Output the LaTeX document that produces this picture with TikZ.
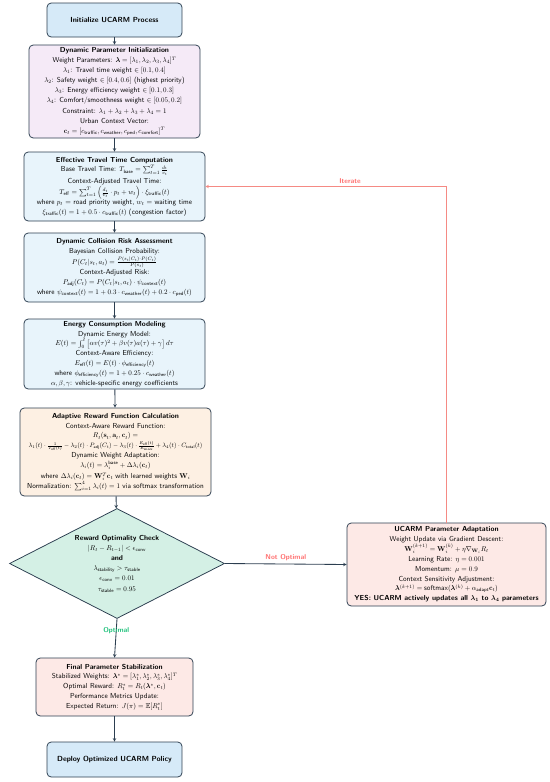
\documentclass[tikz,border=0pt]{standalone}
\usepackage{tikz}
\usepackage{amsmath}
\usepackage{amssymb}
\usepackage{bm}
\usepackage{xcolor}
\usetikzlibrary{shapes.geometric}

\definecolor{edge}{HTML}{2C3E50}
\definecolor{startfill}{HTML}{D6EAF8}
\definecolor{calcfill}{HTML}{E8F4FB}
\definecolor{initfill}{HTML}{F5EAF7}
\definecolor{rewardfill}{HTML}{FDF0E3}
\definecolor{checkfill}{HTML}{D4F0E5}
\definecolor{adaptfill}{HTML}{FDE9E6}
\definecolor{iterred}{HTML}{FF6B6B}
\definecolor{iterline}{HTML}{F58A84}
\definecolor{okgreen}{HTML}{1DC07A}

\begin{document}
\begin{tikzpicture}[>=stealth,x=0.05cm,y=-0.05cm,
  box/.style={draw=edge,line width=1.1pt,rounded corners=6pt,align=center,inner sep=2pt,
    font=\sffamily\fontsize{10.3}{14}\selectfont},
  term/.style={box,fill=startfill,font=\sffamily\bfseries\fontsize{10.5}{12}\selectfont},
  flow/.style={->,draw=edge,line width=1.2pt},
  tag/.style={font=\sffamily\bfseries\fontsize{10}{11}\selectfont}]

\path[use as bounding box] (0,0) rectangle (550,782);

\node(start) at (114.5,20)[term,minimum width=6.75cm,minimum height=1.7cm] {Initialize UCARM Process};

\node(init) at (114.5,91.5)[box,fill=initfill,minimum width=8.55cm,minimum height=4.65cm] {%
  \textbf{Dynamic Parameter Initialization}\\
  Weight Parameters: $\bm{\lambda}=[\lambda_1,\lambda_2,\lambda_3,\lambda_4]^T$\\
  $\lambda_1$: Travel time weight $\in[0.1,0.4]$\\
  $\lambda_2$: Safety weight $\in[0.4,0.6]$ (highest priority)\\
  $\lambda_3$: Energy efficiency weight $\in[0.1,0.3]$\\
  $\lambda_4$: Comfort/smoothness weight $\in[0.05,0.2]$\\[2pt]
  Constraint: $\lambda_1+\lambda_2+\lambda_3+\lambda_4=1$\\
  Urban Context Vector:\\
  $\mathbf{c}_t=[c_{\mathsf{traffic}},c_{\mathsf{weather}},c_{\mathsf{ped}},c_{\mathsf{comfort}}]^T$};

\node(travel) at (114.5,186.5)[box,fill=calcfill,minimum width=9.05cm,minimum height=3.45cm] {%
  \textbf{Effective Travel Time Computation}\\
  Base Travel Time: $T_{\mathsf{base}}=\sum_{t=1}^{T}\frac{d_t}{v_t}$\\[2pt]
  Context-Adjusted Travel Time:\\[2pt]
  $T_{\mathsf{eff}}=\sum_{t=1}^{T}\left(\frac{d_t}{v_t}\cdot p_t+w_t\right)\cdot\xi_{\mathsf{traffic}}(t)$\\
  where $p_t$ = road priority weight, $w_t$ = waiting time\\
  $\xi_{\mathsf{traffic}}(t)=1+0.5\cdot c_{\mathsf{traffic}}(t)$ (congestion factor)};

\node(risk) at (114.5,267.5)[box,fill=calcfill,minimum width=9.05cm,minimum height=3.45cm] {%
  \textbf{Dynamic Collision Risk Assessment}\\
  Bayesian Collision Probability:\\[1pt]
  $P(C_t|s_t,a_t)=\frac{P(s_t|C_t)\cdot P(C_t)}{P(s_t)}$\\[1pt]
  Context-Adjusted Risk:\\
  $P_{\mathsf{adj}}(C_t)=P(C_t|s_t,a_t)\cdot\psi_{\mathsf{context}}(t)$\\
  where $\psi_{\mathsf{context}}(t)=1+0.3\cdot c_{\mathsf{weather}}(t)+0.2\cdot c_{\mathsf{ped}}(t)$};

\node(energy) at (114.5,354)[box,fill=calcfill,minimum width=9.05cm,minimum height=3.5cm] {%
  \textbf{Energy Consumption Modeling}\\
  Dynamic Energy Model:\\
  $E(t)=\int_0^t\left[\alpha v(\tau)^2+\beta v(\tau)a(\tau)+\gamma\right]d\tau$\\
  Context-Aware Efficiency:\\
  $E_{\mathsf{eff}}(t)=E(t)\cdot\phi_{\mathsf{efficiency}}(t)$\\
  where $\phi_{\mathsf{efficiency}}(t)=1+0.25\cdot c_{\mathsf{weather}}(t)$\\
  $\alpha,\beta,\gamma$: vehicle-specific energy coefficients};

\node(reward) at (115.5,452)[box,fill=rewardfill,minimum width=9.55cm,minimum height=4.4cm] {%
  \textbf{Adaptive Reward Function Calculation}\\
  Context-Aware Reward Function:\\
  $R_t(\mathbf{s}_t,\mathbf{a}_t,\mathbf{c}_t)=$\\
  {\fontsize{9}{14}\selectfont$\lambda_1(t)\cdot\frac{1}{T_{\mathsf{eff}}(t)}-\lambda_2(t)\cdot P_{\mathsf{adj}}(C_t)-\lambda_3(t)\cdot\frac{E_{\mathsf{eff}}(t)}{E_{\max}}+\lambda_4(t)\cdot C_{\mathsf{total}}(t)$}\\
  Dynamic Weight Adaptation:\\
  $\lambda_i(t)=\lambda_i^{\mathsf{base}}+\Delta\lambda_i(\mathbf{c}_t)$\\[2pt]
  where $\Delta\lambda_i(\mathbf{c}_t)=\mathbf{W}_i^T\mathbf{c}_t$ with learned weights $\mathbf{W}_i$\\
  Normalization: $\sum_{i=1}^{4}\lambda_i(t)=1$ via softmax transformation};

\node(check) at (117,563.5)[diamond,draw=edge,line width=1.1pt,fill=checkfill,aspect=2,inner sep=0pt,
  minimum width=10.75cm,minimum height=5.5cm,align=center,font=\sffamily\fontsize{10.3}{14.5}\selectfont] {%
  \textbf{Reward Optimality Check}\\
  $|R_t-R_{t-1}|<\epsilon_{\mathsf{conv}}$\\
  \textbf{and}\\
  $\lambda_{\mathsf{stability}}>\tau_{\mathsf{stable}}$\\
  $\epsilon_{\mathsf{conv}}=0.01$\\
  $\tau_{\mathsf{stable}}=0.95$};

\node(final) at (114.5,687)[box,fill=adaptfill,minimum width=7.85cm,minimum height=2.9cm] {%
  \textbf{Final Parameter Stabilization}\\
  Stabilized Weights: $\bm{\lambda}^*=[\lambda_1^*,\lambda_2^*,\lambda_3^*,\lambda_4^*]^T$\\
  Optimal Reward: $R_t^*=R_t(\bm{\lambda}^*,\mathbf{c}_t)$\\
  Performance Metrics Update:\\
  Expected Return: $J(\pi)=\mathbb{E}[R_t^*]$};

\node(deploy) at (114.5,759.5)[term,minimum width=6.75cm,minimum height=1.75cm] {Deploy Optimized UCARM Policy};

\node(adapt) at (446.5,564.5)[box,fill=adaptfill,minimum width=9.95cm,minimum height=4.15cm] {%
  \textbf{UCARM Parameter Adaptation}\\
  Weight Update via Gradient Descent:\\
  $\mathbf{W}_i^{(k+1)}=\mathbf{W}_i^{(k)}+\eta\nabla_{\mathbf{W}_i}R_t$\\
  Learning Rate: $\eta=0.001$\\
  Momentum: $\mu=0.9$\\
  Context Sensitivity Adjustment:\\
  $\bm{\lambda}^{(k+1)}=\textsf{softmax}(\bm{\lambda}^{(k)}+\alpha_{\mathsf{adapt}}\mathbf{c}_t)$\\
  \textbf{YES: UCARM actively updates all $\bm{\lambda_1}$ to $\bm{\lambda_4}$ parameters}};

\draw[flow] (start) -- (init);
\draw[flow] (init) -- (travel);
\draw[flow] (travel) -- (risk);
\draw[flow] (risk) -- (energy);
\draw[flow] (energy) -- (reward);
\draw[flow] (reward) -- (check);
\draw[flow] (check.south) -- node[pos=0.3,tag,text=okgreen]{Optimal} (final.north);
\draw[flow] (final) -- (deploy);
\draw[flow] (check.east) -- node[above,tag,text=iterred]{Not Optimal} (adapt.west);
\draw[->,draw=iterline,line width=1.2pt] (adapt.north) |- node[pos=0.7,above,tag,text=iterred]{Iterate} (travel.east);

\end{tikzpicture}
\end{document}
